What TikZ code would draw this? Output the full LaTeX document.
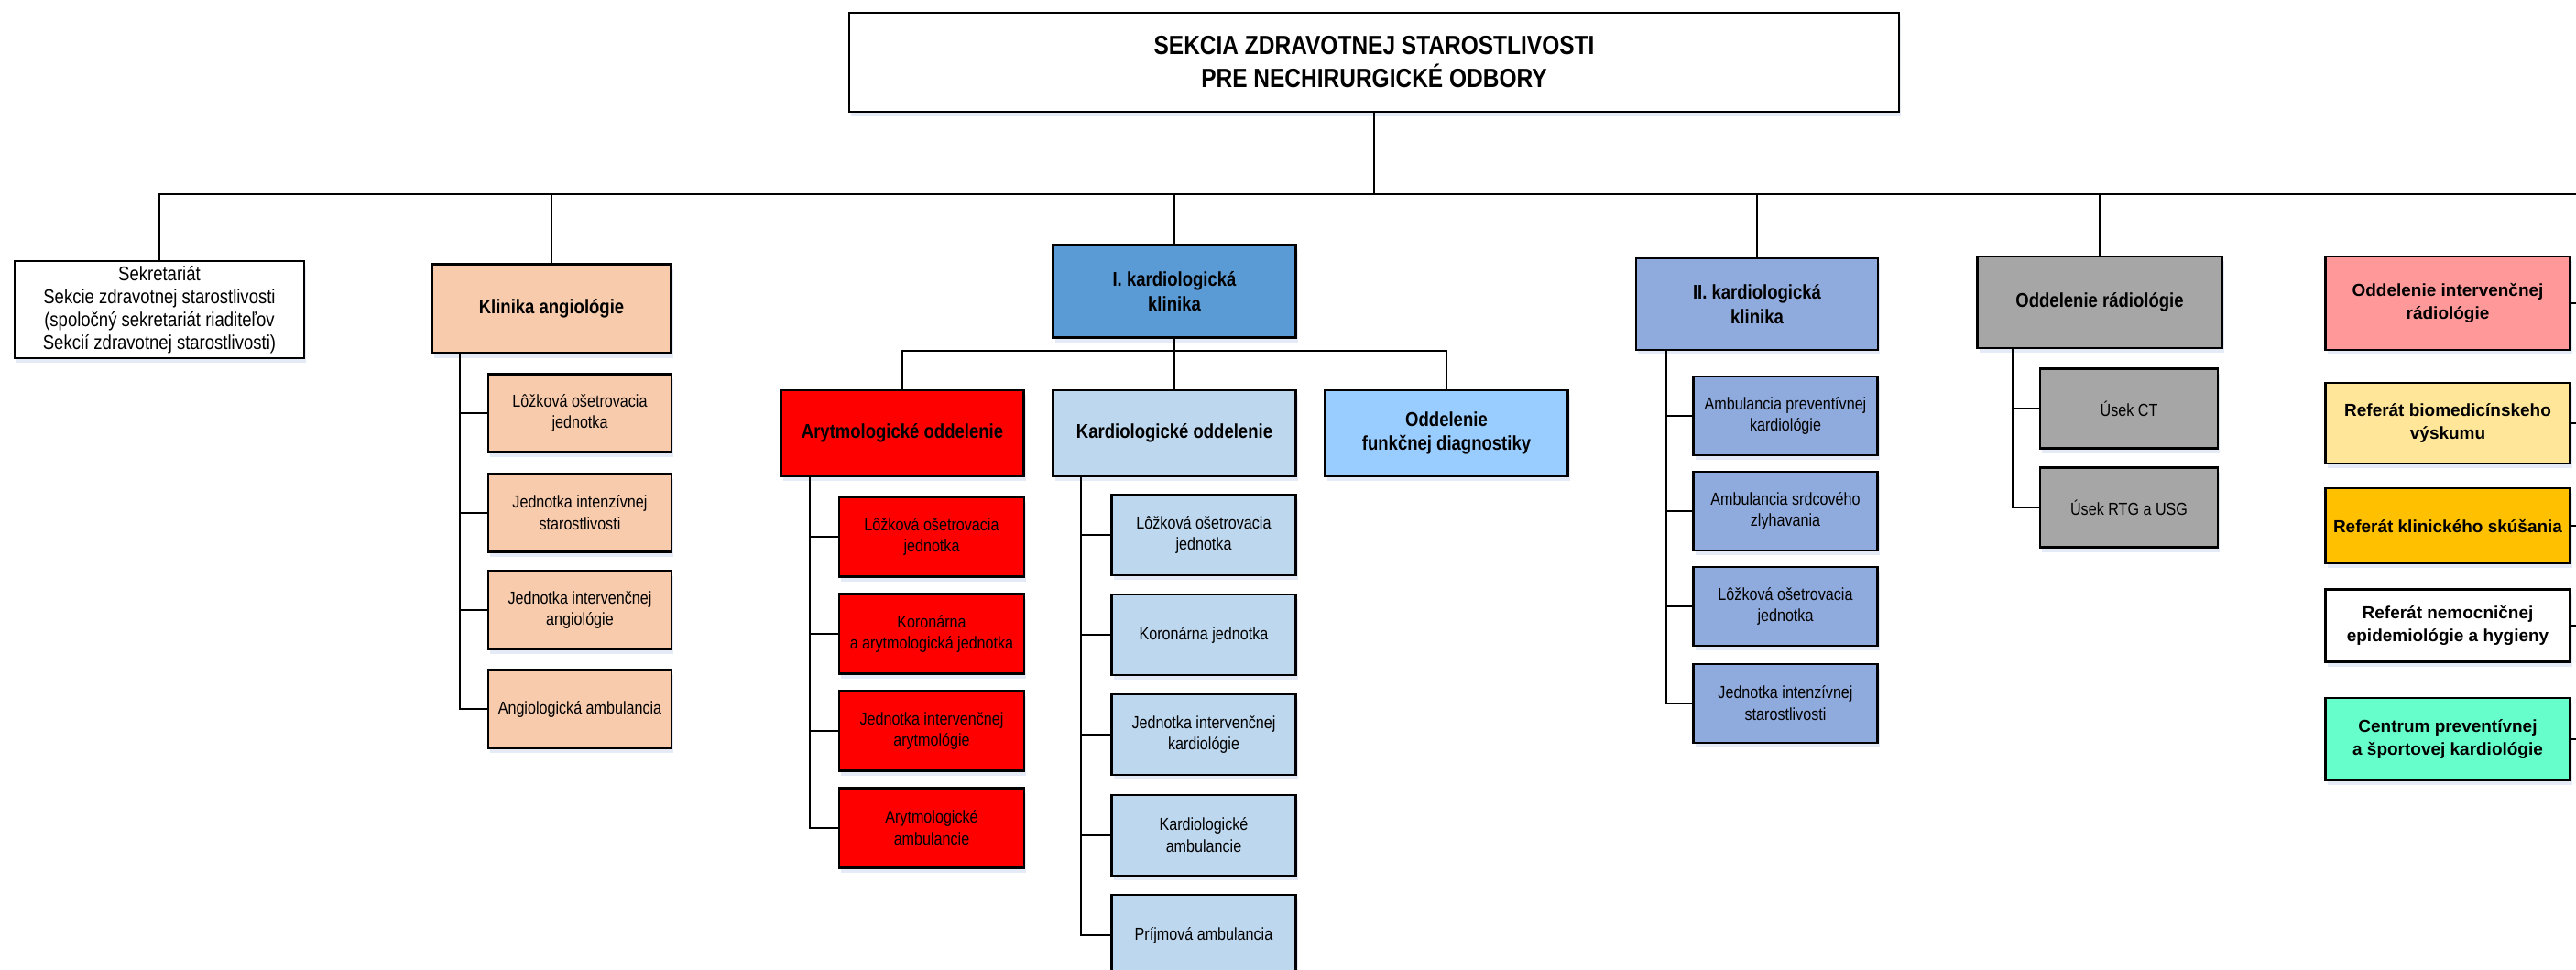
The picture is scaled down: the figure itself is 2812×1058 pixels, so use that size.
\documentclass[tikz,border=0pt]{standalone}
\usepackage{fontspec}
\setmainfont{Liberation Sans}
\newfontfamily\narrowsf{Liberation Sans}[FakeStretch=0.85]
\usetikzlibrary{shadows}
\definecolor{angiocol}{HTML}{F8CBAD}
\definecolor{kardonecol}{HTML}{5B9BD5}
\definecolor{arytcol}{HTML}{FF0000}
\definecolor{kardcol}{HTML}{BDD7EE}
\definecolor{funkcol}{HTML}{99CCFF}
\definecolor{kardtwocol}{HTML}{8FAADC}
\definecolor{radiocol}{HTML}{A6A6A6}
\definecolor{intradcol}{HTML}{FF9999}
\definecolor{biomedcol}{HTML}{FFE699}
\definecolor{klincol}{HTML}{FFC000}
\definecolor{centcol}{HTML}{66FFCC}
\definecolor{shadowcol}{HTML}{E4EBF7}

\begin{document}
\begin{tikzpicture}[x=0.1mm, y=-0.1mm,
    box/.style={draw, line width=0.8pt, align=center, inner sep=1pt,
        drop shadow={shadow xshift=0.2mm, shadow yshift=-0.5mm, fill=shadowcol, opacity=1}},
    head/.style={box, font=\narrowsf\bfseries\fontsize{6.2}{7.6}\selectfont},
    unit/.style={box, font=\narrowsf\fontsize{5.4}{6.8}\selectfont},
    side/.style={box, minimum width=26.7mm, font=\bfseries\fontsize{5.4}{7}\selectfont},
    link/.style={line width=0.6pt}]

\clip (0,0) rectangle (2812,1058);

\node[box, fill=white, minimum width=114.6mm, minimum height=10.8mm, font=\narrowsf\bfseries\fontsize{8.2}{10.2}\selectfont] (root) at (1500,68) {SEKCIA ZDRAVOTNEJ STAROSTLIVOSTI\\PRE NECHIRURGICKÉ ODBORY};

\node[box, fill=white, minimum width=31.6mm, minimum height=10.6mm, font=\narrowsf\fontsize{6.2}{7.1}\selectfont] (sekr) at (174,338) {Sekretariát\\Sekcie zdravotnej starostlivosti\\(spoločný sekretariát riaditeľov\\Sekcií zdravotnej starostlivosti)};

% klinika angiologie
\node[head, fill=angiocol, minimum width=26.1mm, minimum height=9.7mm] (angio) at (602,337) {Klinika angiológie};
\node[unit, fill=angiocol, minimum width=20mm, minimum height=8.5mm] (ang1) at (633,451) {Lôžková ošetrovacia\\jednotka};
\node[unit, fill=angiocol, minimum width=20mm, minimum height=8.5mm] (ang2) at (633,560) {Jednotka intenzívnej\\starostlivosti};
\node[unit, fill=angiocol, minimum width=20mm, minimum height=8.5mm] (ang3) at (633,666) {Jednotka intervenčnej\\angiológie};
\node[unit, fill=angiocol, minimum width=20mm, minimum height=8.5mm] (ang4) at (633,774) {Angiologická ambulancia};

% I. kardiologicka klinika
\node[head, fill=kardonecol, minimum width=26.5mm, minimum height=10.1mm] (kardone) at (1282,318) {I. kardiologická\\klinika};
\node[head, fill=arytcol, minimum width=26.5mm, minimum height=9.4mm] (aryt) at (985,473) {Arytmologické oddelenie};
\node[head, fill=kardcol, minimum width=26.5mm, minimum height=9.4mm] (kard) at (1282,473) {Kardiologické oddelenie};
\node[head, fill=funkcol, minimum width=26.5mm, minimum height=9.4mm] (funk) at (1579,473) {Oddelenie\\funkčnej diagnostiky};

\node[unit, fill=arytcol, minimum width=20.2mm, minimum height=8.7mm] (ary1) at (1017,586) {Lôžková ošetrovacia\\jednotka};
\node[unit, fill=arytcol, minimum width=20.2mm, minimum height=8.7mm] (ary2) at (1017,692) {Koronárna\\a arytmologická jednotka};
\node[unit, fill=arytcol, minimum width=20.2mm, minimum height=8.7mm] (ary3) at (1017,798) {Jednotka intervenčnej\\arytmológie};
\node[unit, fill=arytcol, minimum width=20.2mm, minimum height=8.7mm] (ary4) at (1017,904) {Arytmologické\\ambulancie};

\node[unit, fill=kardcol, minimum width=20.1mm, minimum height=8.8mm] (kar1) at (1314,584) {Lôžková ošetrovacia\\jednotka};
\node[unit, fill=kardcol, minimum width=20.1mm, minimum height=8.8mm] (kar2) at (1314,693) {Koronárna jednotka};
\node[unit, fill=kardcol, minimum width=20.1mm, minimum height=8.8mm] (kar3) at (1314,802) {Jednotka intervenčnej\\kardiológie};
\node[unit, fill=kardcol, minimum width=20.1mm, minimum height=8.8mm] (kar4) at (1314,912) {Kardiologické\\ambulancie};
\node[unit, fill=kardcol, minimum width=20.1mm, minimum height=8.8mm] (kar5) at (1314,1021) {Príjmová ambulancia};

% II. kardiologicka klinika
\node[head, fill=kardtwocol, minimum width=26.4mm, minimum height=10mm] (kardtwo) at (1918,332) {II. kardiologická\\klinika};
\node[unit, fill=kardtwocol, minimum width=20.1mm, minimum height=8.6mm] (kii1) at (1949,454) {Ambulancia preventívnej\\kardiológie};
\node[unit, fill=kardtwocol, minimum width=20.1mm, minimum height=8.6mm] (kii2) at (1949,558) {Ambulancia srdcového\\zlyhavania};
\node[unit, fill=kardtwocol, minimum width=20.1mm, minimum height=8.6mm] (kii3) at (1949,662) {Lôžková ošetrovacia\\jednotka};
\node[unit, fill=kardtwocol, minimum width=20.1mm, minimum height=8.6mm] (kii4) at (1949,768) {Jednotka intenzívnej\\starostlivosti};

% radiologia
\node[head, fill=radiocol, minimum width=26.7mm, minimum height=10mm] (radio) at (2292,330) {Oddelenie rádiológie};
\node[unit, fill=radiocol, minimum width=19.4mm, minimum height=8.7mm] (rad1) at (2324,446) {Úsek CT};
\node[unit, fill=radiocol, minimum width=19.4mm, minimum height=8.7mm] (rad2) at (2324,554) {Úsek RTG a USG};

% samostatne utvary
\node[side, fill=intradcol, minimum height=10.2mm] (intrad) at (2672,331) {Oddelenie intervenčnej\\rádiológie};
\node[side, fill=biomedcol, minimum height=8.8mm] (biomed) at (2672,462) {Referát biomedicínskeho\\výskumu};
\node[side, fill=klincol, minimum height=8.2mm] (klin) at (2672,574) {Referát klinického skúšania};
\node[side, fill=white, minimum height=7.9mm] (epid) at (2672,683) {Referát nemocničnej\\epidemiológie a hygieny};
\node[side, fill=centcol, minimum height=9mm] (cent) at (2672,807) {Centrum preventívnej\\a športovej kardiológie};

% spojnice
\coordinate (bus) at (2812,212);
\coordinate (subbus) at (0,383);
\draw[link] (root.south) -- (root.south |- bus);
\draw[link] (sekr.north) |- (bus);
\draw[link] (angio.north) -- (angio.north |- bus);
\draw[link] (kardone.north) -- (kardone.north |- bus);
\draw[link] (kardtwo.north) -- (kardtwo.north |- bus);
\draw[link] (radio.north) -- (radio.north |- bus);

\draw[link] (kardone.south) -- (kardone.south |- subbus);
\draw[link] (aryt.north) |- (kardone.south |- subbus) -| (funk.north);
\draw[link] (kard.north) -- (kard.north |- subbus);

\draw[link] (angio.south west) ++(3.2mm,0) coordinate (angsp) |- (ang4.west);
\draw[link] (angsp |- ang1.west) -- (ang1.west);
\draw[link] (angsp |- ang2.west) -- (ang2.west);
\draw[link] (angsp |- ang3.west) -- (ang3.west);

\draw[link] (aryt.south west) ++(3.3mm,0) coordinate (arysp) |- (ary4.west);
\draw[link] (arysp |- ary1.west) -- (ary1.west);
\draw[link] (arysp |- ary2.west) -- (ary2.west);
\draw[link] (arysp |- ary3.west) -- (ary3.west);

\draw[link] (kard.south west) ++(3.2mm,0) coordinate (karsp) |- (kar5.west);
\draw[link] (karsp |- kar1.west) -- (kar1.west);
\draw[link] (karsp |- kar2.west) -- (kar2.west);
\draw[link] (karsp |- kar3.west) -- (kar3.west);
\draw[link] (karsp |- kar4.west) -- (kar4.west);

\draw[link] (kardtwo.south west) ++(3.4mm,0) coordinate (kiisp) |- (kii4.west);
\draw[link] (kiisp |- kii1.west) -- (kii1.west);
\draw[link] (kiisp |- kii2.west) -- (kii2.west);
\draw[link] (kiisp |- kii3.west) -- (kii3.west);

\draw[link] (radio.south west) ++(4mm,0) coordinate (radsp) |- (rad2.west);
\draw[link] (radsp |- rad1.west) -- (rad1.west);

\draw[link] (intrad.east) -- (intrad.east -| bus);
\draw[link] (biomed.east) -- (biomed.east -| bus);
\draw[link] (klin.east) -- (klin.east -| bus);
\draw[link] (epid.east) -- (epid.east -| bus);
\draw[link] (cent.east) -- (cent.east -| bus);

\end{tikzpicture}
\end{document}
